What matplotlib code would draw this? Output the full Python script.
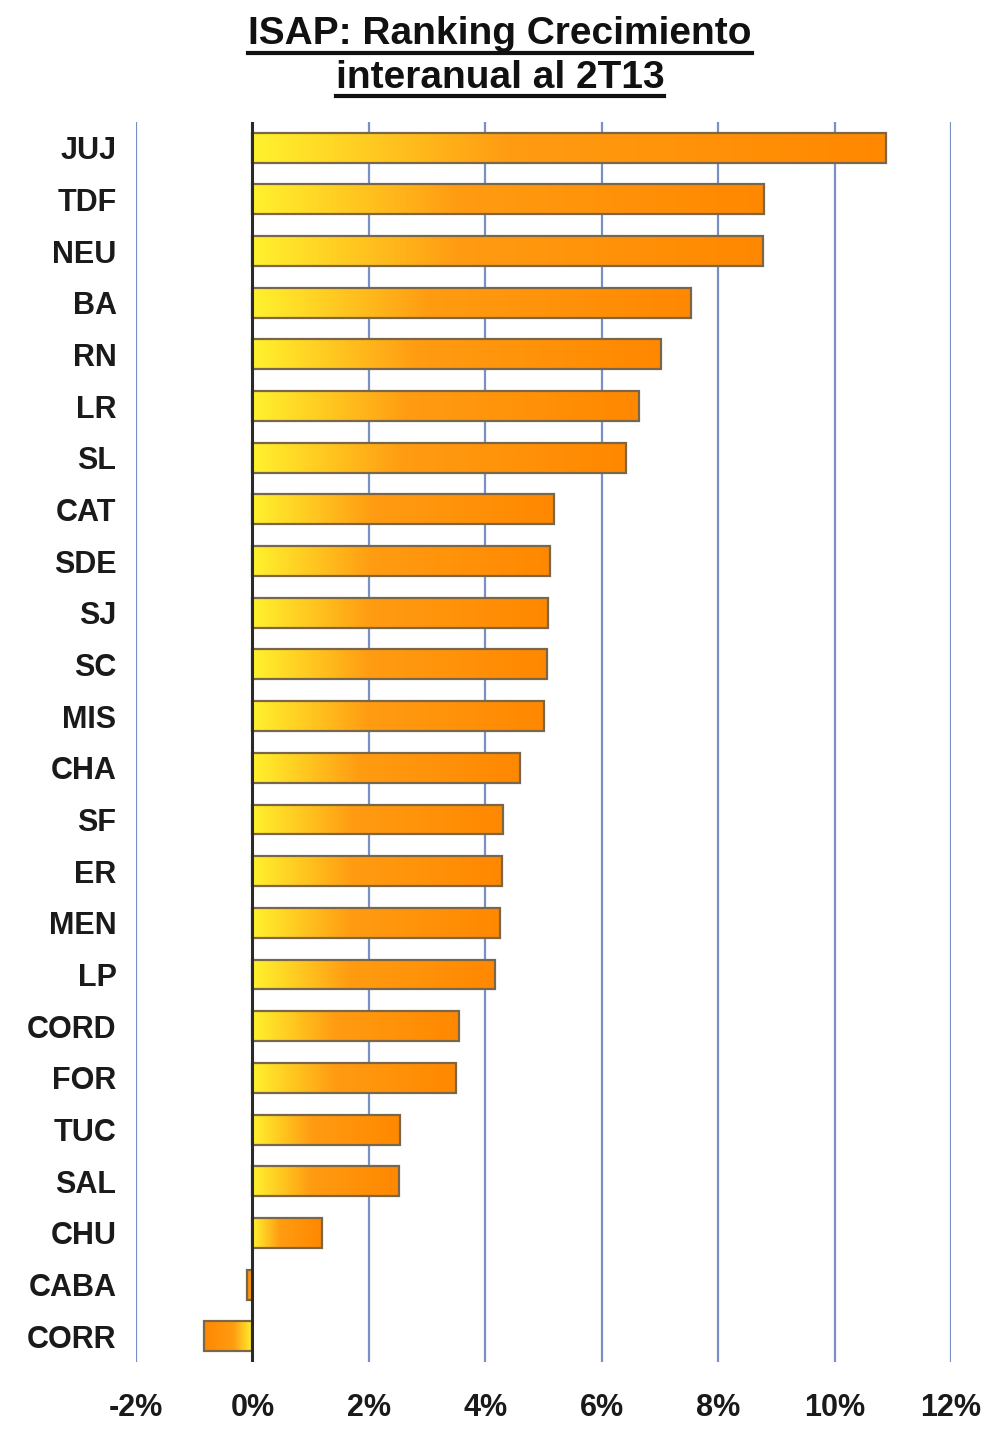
import numpy as np
import matplotlib
matplotlib.use('Agg')
import matplotlib.pyplot as plt
from matplotlib.colors import LinearSegmentedColormap
from matplotlib.patches import Rectangle
from matplotlib.lines import Line2D

provincias = ['JUJ', 'TDF', 'NEU', 'BA', 'RN', 'LR', 'SL', 'CAT', 'SDE', 'SJ', 'SC', 'MIS',
              'CHA', 'SF', 'ER', 'MEN', 'LP', 'CORD', 'FOR', 'TUC', 'SAL', 'CHU', 'CABA', 'CORR']
crecimiento = [10.88, 8.79, 8.77, 7.54, 7.02, 6.64, 6.42, 5.18, 5.12, 5.08, 5.06, 5.00,
               4.60, 4.31, 4.29, 4.26, 4.17, 3.54, 3.50, 2.54, 2.51, 1.20, -0.10, -0.84]
xticks = [-2, 0, 2, 4, 6, 8, 10, 12]

narrow = ['Liberation Sans Narrow', 'Liberation Sans', 'DejaVu Sans']

fig = plt.figure(figsize=(10, 14.36), dpi=100)
ax = fig.add_axes([0.136, 0.0515, 0.815, 0.8636])

# degradado amarillo -> naranja, relativo al largo de cada barra
cmap = LinearSegmentedColormap.from_list('amarillo', [(0, '#fff22e'), (0.4, '#ff9c12'), (1, '#ff8800')])
grad = np.linspace(0, 1, 256).reshape(1, -1)

n = len(provincias)
ypos = np.arange(n)[::-1]
h = 0.58
for y, v in zip(ypos, crecimiento):
    ax.imshow(grad, cmap=cmap, extent=[0, v, y - h / 2, y + h / 2], aspect='auto',
              interpolation='bilinear', zorder=3)
    ax.add_patch(Rectangle((0, y - h / 2), v, h, fill=False, edgecolor='#7a6648', lw=1.6, zorder=4))

for x in xticks:
    if x != 0:
        ax.axvline(x, color='#7890c4', lw=1.6, zorder=1)
ax.axvline(0, color='#2a2a2a', lw=2.2, zorder=5)

ax.set_xlim(-2, 12)
ax.set_ylim(-0.5, n - 0.5)
for s in ax.spines.values():
    s.set_visible(False)

ax.set_yticks(ypos)
ax.set_yticklabels(provincias, family=narrow, fontsize=22, fontweight='bold', color='#1a1a1a')
ax.set_xticks(xticks)
ax.set_xticklabels([f'{x}%' for x in xticks], family=narrow, fontsize=22, fontweight='bold', color='#1a1a1a')
ax.tick_params(axis='both', length=0)
ax.tick_params(axis='y', pad=14)
ax.tick_params(axis='x', pad=22)

# titulo subrayado
lineas = ['ISAP: Ranking Crecimiento', 'interanual al 2T13']
ys = [0.976, 0.946]
fig.canvas.draw()
r = fig.canvas.get_renderer()
for txt, yy in zip(lineas, ys):
    t = fig.text(0.5, yy, txt, ha='center', va='center', fontsize=28, fontweight='bold',
                 family=['Liberation Sans', 'DejaVu Sans'], color='#111111')
    bb = t.get_window_extent(renderer=r).transformed(fig.transFigure.inverted())
    fig.add_artist(Line2D([bb.x0, bb.x1], [bb.y0 - 0.0005, bb.y0 - 0.0005], color='#111111', lw=3,
                          transform=fig.transFigure))

fig.savefig('out.png', dpi=100)
